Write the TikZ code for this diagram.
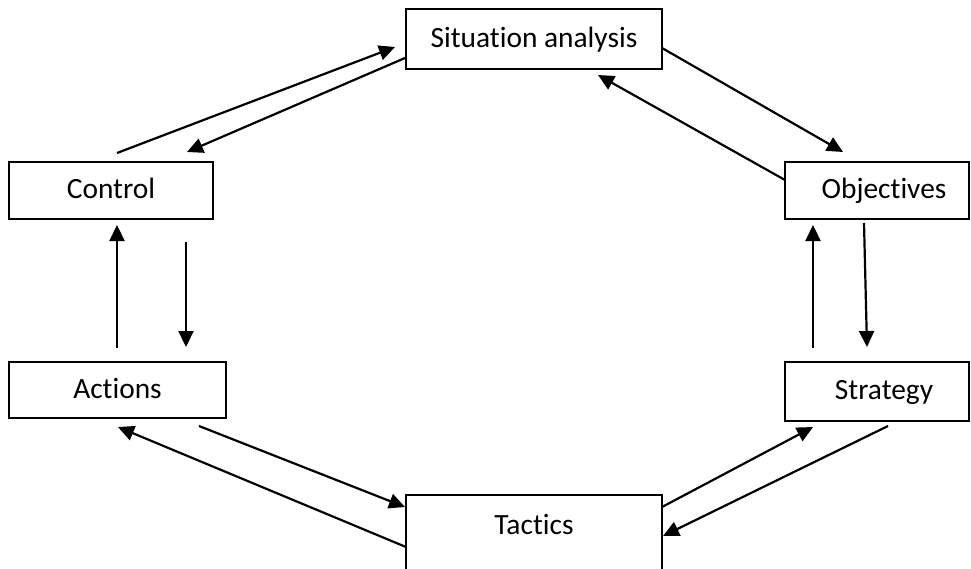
\documentclass[tikz,border=0pt]{standalone}
\usepackage{fontspec}
\setmainfont[Ligatures=NoCommon]{Carlito}
\usetikzlibrary{arrows.meta,calc}

\tikzset{
  box/.style={draw=black, line width=2.1pt, rectangle, inner sep=0pt, outer sep=0pt,
              font=\fontsize{29.4pt}{35pt}\selectfont, text height=22pt, text depth=6pt},
  boxtext/.style={inner sep=0pt, outer sep=0pt,
              font=\fontsize{29.4pt}{35pt}\selectfont, text height=22pt, text depth=6pt},
  flow/.style={draw=black, line width=2.2pt, -{Triangle[length=16pt,width=15pt]}}
}

\begin{document}
\begin{tikzpicture}[x=1pt, y=-1pt]
  % page frame (971 x 568), everything outside is cut off
  \useasboundingbox (0,0) rectangle (971,568);
  \clip (0,0) rectangle (971,568);

  % stages of the cycle
  \node[box, minimum width=256, minimum height=60] (sa)  at (534,39)    {Situation analysis};
  \node[box, minimum width=204, minimum height=57] (ctl) at (111,190.5) {Control};
  \node[box, minimum width=184, minimum height=57,
        label={[boxtext, xshift=7pt]center:Objectives}] (obj) at (877,190.5) {};
  \node[box, minimum width=217, minimum height=56] (act) at (117.5,390) {Actions};
  \node[box, minimum width=184, minimum height=59,
        label={[boxtext, xshift=7pt]center:Strategy}] (str) at (877,391.5) {};
  \node[box, minimum width=256, minimum height=110, anchor=north] (tac) at (534,495) {};
  \node[boxtext] (tactxt) at ($(tac.north)+(0,31)$) {Tactics};

  % top-left pair
  \draw[flow] ($(ctl.north west)+(108,-9)$) -- ($(sa.west)+(-11,8)$);
  \draw[flow] ($(sa.west)+(-1,19)$) -- ($(ctl.north west)+(178,-10)$);

  % top-right pair
  \draw[flow] ($(sa.east)+(0,9)$) -- ($(obj.north west)+(58,-10)$);
  \draw[flow] ($(obj.west)+(0,-10.5)$) -- ($(sa.south)+(64,6)$);

  % right side pair
  \draw[flow] ($(obj.south west)+(79,4)$) -- ($(str.north west)+(82,-15)$);
  \draw[flow] ($(str.north west)+(28,-14)$) -- ($(obj.south west)+(28,6)$);

  % bottom-right pair
  \draw[flow] ($(str.south west)+(103,5)$) -- ($(tac.north east)+(1,41)$);
  \draw[flow] ($(tac.north east)+(0,12)$) -- ($(str.south west)+(28,6)$);

  % bottom-left pair
  \draw[flow] ($(tac.north west)+(0,52)$) -- ($(act.south west)+(109,9)$);
  \draw[flow] ($(act.south west)+(190,8)$) -- ($(tac.north west)+(-1,12)$);

  % left side pair
  \draw[flow] ($(act.north west)+(108,-14)$) -- ($(ctl.south west)+(108,6)$);
  \draw[flow] ($(ctl.south west)+(177,23)$) -- ($(act.north west)+(177,-15)$);
\end{tikzpicture}
\end{document}
